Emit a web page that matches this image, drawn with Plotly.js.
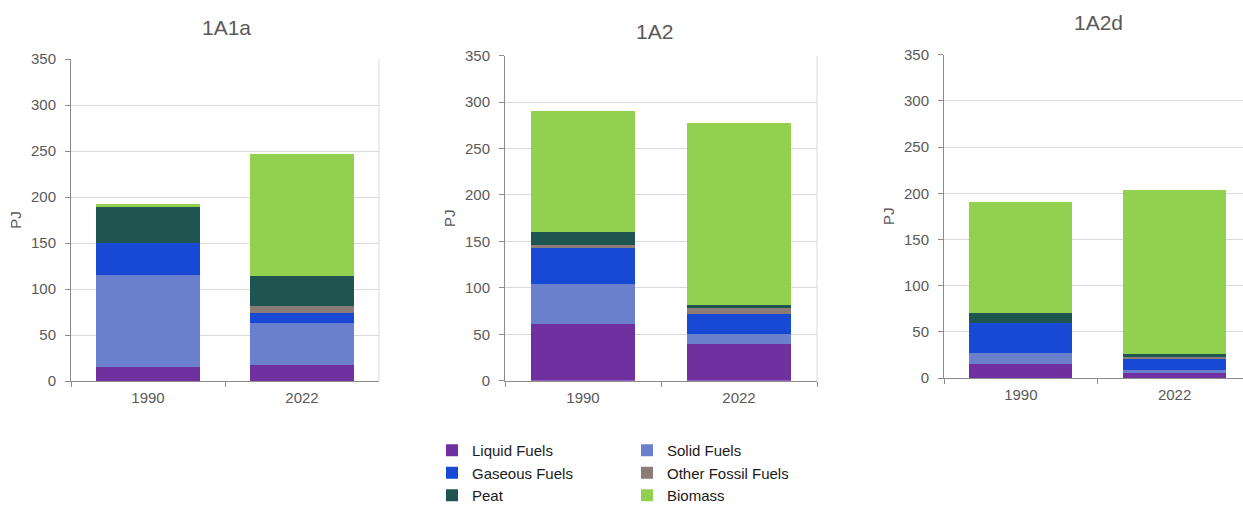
<!DOCTYPE html>
<html>
<head>
<meta charset="utf-8">
<script src="https://cdn.plot.ly/plotly-3.0.1.min.js"></script>
<style>html,body{margin:0;padding:0;background:#fff;}#chart{width:1243px;height:506px;}</style>
</head>
<body>
<div id="chart"></div>
<script>
// ---- data ----
const categories = ['1990', '2022'];
const panels = ['1A1a', '1A2', '1A2d'];
const seriesNames = ['Liquid Fuels', 'Solid Fuels', 'Gaseous Fuels', 'Other Fossil Fuels', 'Peat', 'Biomass'];
// each array: one [1990, 2022] pair per panel (1A1a, 1A2, 1A2d), PJ
const liquidFuels      = [[15, 17],  [61, 40],   [15.5, 5]];
const solidFuels       = [[100, 46], [43, 10],   [12, 3.5]];
const gaseousFuels     = [[35, 11],  [40, 22],   [32, 12.5]];
const otherFossilFuels = [[0, 8],    [2, 6.5],   [0, 2]];
const peat             = [[39, 32],  [14, 3.5],  [11, 3]];
const biomass          = [[3, 133],  [130, 195], [120, 178]];
const yTicks = [0, 50, 100, 150, 200, 250, 300, 350];

// ---- styling ----
const seriesData = [liquidFuels, solidFuels, gaseousFuels, otherFossilFuels, peat, biomass];
const colors = ['#7030a0', '#6a80cc', '#1849d4', '#8b7b77', '#1f5550', '#92d050'];
const legendFor = ['legend', 'legend2', 'legend', 'legend2', 'legend', 'legend2'];
const W = 1243, H = 506;
const px = v => v / W;
const py = v => (H - v) / H;
const geom = [
  {l: 71,  r: 379,  t: 59,   b: 381,   range: [-0.5, 1.5],   title: [226.5, 27]},
  {l: 505, r: 817,  t: 55.7, b: 380.7, range: [-0.5, 1.5],   title: [654.5, 31.7]},
  {l: 944, r: 1243, t: 54.7, b: 378,   range: [-0.5, 1.445], title: [1098, 22.7]}
];
const font = 'Liberation Sans, Arial, sans-serif';
const grey = '#595959';

const traces = [];
panels.forEach((p, pi) => {
  const ax = pi === 0 ? '' : String(pi + 1);
  seriesData.forEach((s, si) => {
    traces.push({
      type: 'bar',
      name: seriesNames[si],
      x: categories,
      y: s[pi],
      xaxis: 'x' + ax,
      yaxis: 'y' + ax,
      marker: {color: colors[si], line: {width: 0}},
      showlegend: pi === 0,
      legend: legendFor[si],
      hoverinfo: 'x+y+name'
    });
  });
});

const legendStyle = {
  xanchor: 'left', yanchor: 'top', orientation: 'v', traceorder: 'normal',
  font: {family: font, size: 15, color: '#1a1a1a'}, bgcolor: 'rgba(0,0,0,0)',
  borderwidth: 0, itemclick: false, itemdoubleclick: false
};

const layout = {
  width: W, height: H,
  margin: {l: 0, r: 0, t: 0, b: 0, autoexpand: false},
  paper_bgcolor: '#fff', plot_bgcolor: '#fff',
  barmode: 'stack',
  bargap: 0.33,
  font: {family: font, color: grey, size: 15},
  legend: Object.assign({x: px(432), y: py(434)}, legendStyle),
  legend2: Object.assign({x: px(627), y: py(434)}, legendStyle),
  annotations: [],
  shapes: []
};

geom.forEach((g, gi) => {
  const ax = gi === 0 ? '' : String(gi + 1);
  layout['xaxis' + ax] = {
    domain: [px(g.l), Math.min(1, px(g.r))],
    anchor: 'y' + ax,
    type: 'category',
    range: g.range,
    showline: true, linecolor: '#8c8c8c', linewidth: 1,
    ticks: 'outside', tickson: 'boundaries', ticklen: 5, tickcolor: '#8c8c8c',
    showgrid: false, zeroline: false,
    ticklabelstandoff: 3,
    tickfont: {family: font, size: 15, color: grey},
    fixedrange: true
  };
  layout['yaxis' + ax] = {
    domain: [py(g.b), py(g.t)],
    anchor: 'x' + ax,
    range: [0, 350],
    tickvals: yTicks,
    showline: true, linecolor: '#8c8c8c', linewidth: 1,
    ticks: 'outside', ticklen: 5, tickcolor: '#8c8c8c',
    showgrid: true, gridcolor: '#d9d9d9', gridwidth: 1,
    zeroline: false,
    ticklabelstandoff: 6,
    tickfont: {family: font, size: 15, color: grey},
    title: {text: 'PJ', font: {family: font, size: 15, color: grey}, standoff: 5},
    fixedrange: true
  };
  layout.annotations.push({
    text: panels[gi], xref: 'paper', yref: 'paper',
    x: px(g.title[0]), y: py(g.title[1]), xanchor: 'center', yanchor: 'middle',
    showarrow: false, font: {family: font, size: 21, color: grey}
  });
  if (gi < 2) {
    layout.shapes.push({
      type: 'line', xref: 'x' + ax + ' domain', yref: 'y' + ax,
      x0: 1, x1: 1, y0: 0, y1: 350,
      line: {color: '#d9d9d9', width: 1}
    });
  }
});

Plotly.newPlot('chart', traces, layout, {displayModeBar: false});
</script>
</body>
</html>
